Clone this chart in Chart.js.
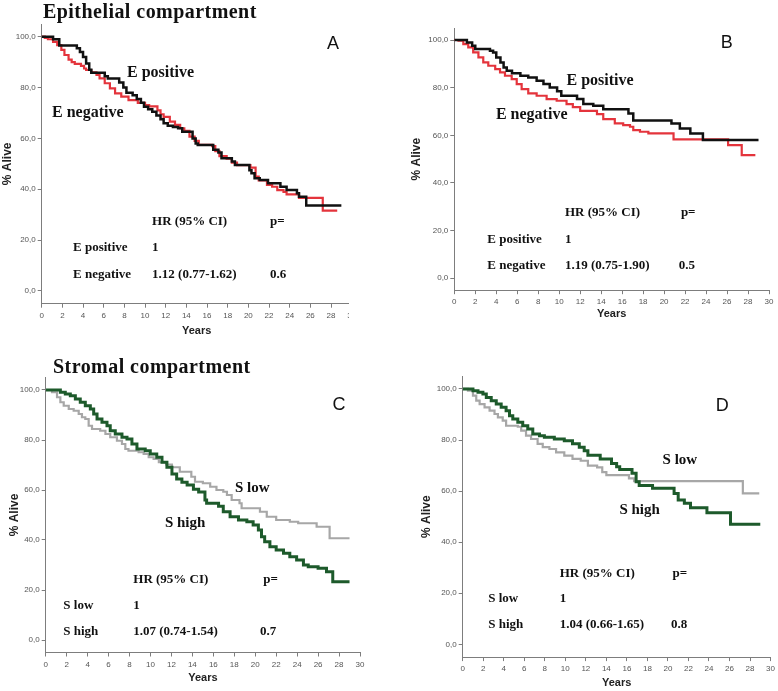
<!DOCTYPE html>
<html>
<head>
<meta charset="utf-8">
<title>Survival by epithelial and stromal compartment</title>
<script src="https://cdn.jsdelivr.net/npm/chart.js@4.4.1/dist/chart.umd.min.js"></script>
<style>
  body { margin: 0; background: #fff; }
  #figure { position: relative; width: 778px; height: 691px; overflow: hidden; }
  .panel { position: absolute; overflow: hidden; }
  .panel canvas { position: absolute; left: 0; top: 0; }
  .heading {
    position: absolute;
    font: bold 20px "Liberation Serif", "Times New Roman", serif;
    letter-spacing: 0.45px;
    line-height: 20px;
    white-space: nowrap;
    color: #111;
  }
</style>
</head>
<body>
<div id="figure">
  <div class="panel" style="left:0px; top:0px; width:349px; height:345px;"><canvas id="chartA" width="372" height="345"></canvas></div>
  <div class="panel" style="left:390px; top:0px; width:388px; height:340px;"><canvas id="chartB" width="388" height="340"></canvas></div>
  <div class="panel" style="left:0px; top:340px; width:390px; height:351px;"><canvas id="chartC" width="390" height="351"></canvas></div>
  <div class="panel" style="left:390px; top:340px; width:388px; height:351px;"><canvas id="chartD" width="388" height="351"></canvas></div>
  <div class="heading" style="left:43px; top:1px;">Epithelial compartment</div>
  <div class="heading" style="left:53px; top:356px;">Stromal compartment</div>
</div>

<script>
// ---------------------------------------------------------------
// Axis ticks
// ---------------------------------------------------------------
const xTicks = [0, 2, 4, 6, 8, 10, 12, 14, 16, 18, 20, 22, 24, 26, 28, 30];
const yTicks = [0, 20, 40, 60, 80, 100];

// ---------------------------------------------------------------
// Kaplan-Meier steps: event time (years) and % alive after the step
// ---------------------------------------------------------------

// A - epithelial, E positive / E negative
const aPosYears = [0, 1.1, 1.7, 3.4, 3.7, 4.0, 4.3, 4.6, 4.8, 6.1, 6.4, 7.5, 7.9, 8.2, 8.8, 9.2, 9.6, 9.9, 10.3, 10.7, 11.1, 11.5, 11.8, 12.2, 12.7, 13.2, 13.6, 14.6, 14.9, 15.1, 16.6, 17.1, 17.4, 18.4, 18.7, 20.1, 20.3, 20.6, 21.1, 21.9, 23.1, 23.7, 24.7, 24.9, 25.6, 29.0];
const aPosSurv  = [100, 99, 96.5, 95.5, 94, 92, 89.5, 87, 85.8, 84.5, 83.6, 82, 80, 78, 77, 75.5, 74, 72.5, 71.5, 70.5, 69, 67.5, 66, 65, 64.5, 64, 62.6, 60, 58, 57.4, 55.5, 54.5, 52.2, 50.9, 49.5, 47.5, 46.3, 44.3, 43.6, 42.4, 41, 39.7, 38.4, 37.1, 33.6, 33.6];
const aNegYears = [0, 0.3, 0.6, 1.1, 1.5, 1.9, 2.2, 2.6, 2.9, 3.2, 3.8, 4.1, 4.3, 4.8, 5.3, 5.6, 6.1, 6.6, 7.1, 7.7, 8.4, 9.3, 10.0, 10.4, 11.2, 11.5, 11.8, 12.4, 12.9, 13.4, 13.8, 14.3, 14.8, 15.2, 16.5, 16.8, 17.2, 17.9, 18.4, 18.9, 20.2, 20.7, 21.0, 21.8, 22.3, 22.8, 23.4, 23.7, 24.9, 27.2, 28.6];
const aNegSurv  = [100, 99.5, 99, 98, 96.7, 94.8, 92.8, 91, 90, 89.3, 88.5, 87.5, 86.9, 86, 85, 83.6, 81.7, 79.7, 77.7, 76.4, 75.1, 74, 73.1, 72.6, 71, 69.5, 68.5, 66.6, 65.3, 64, 63, 60.7, 59, 57.5, 57, 55, 53, 52, 50.5, 49.5, 48.5, 45, 43.5, 41.7, 41, 39.7, 39, 38, 36.6, 31.6, 31.6];

// B - epithelial, E positive / E negative
const bPosYears = [0, 1.2, 1.7, 2.0, 3.4, 3.7, 4.0, 4.4, 4.7, 5.0, 5.5, 6.3, 7.05, 7.85, 8.5, 9.1, 9.8, 10.2, 11.7, 12.3, 13.25, 14.2, 16.6, 17.06, 20.7, 21.5, 22.5, 23.7, 29.0];
const bPosSurv  = [100, 99, 97.6, 96.2, 95.5, 94.8, 92.7, 90.6, 88.5, 87.1, 86, 85, 84.3, 82.9, 81.5, 80.1, 78.5, 76.6, 75.2, 73.1, 72.4, 70.9, 69.2, 66.2, 65, 62.9, 60.8, 58, 58];
const bNegYears = [0, 0.4, 0.86, 1.33, 1.8, 2.3, 2.76, 3.24, 3.9, 4.36, 4.83, 5.47, 5.95, 6.42, 7.05, 7.85, 8.8, 9.76, 10.7, 11.3, 12.0, 13.6, 14.2, 15.3, 16.1, 16.75, 17.06, 17.7, 18.5, 20.9, 26.1, 27.4, 28.7];
const bNegSurv  = [100, 99.7, 98.3, 96.9, 94.8, 92.7, 90.6, 89.2, 87.8, 86.4, 85, 83.6, 81.5, 79.4, 77.6, 76.6, 75.2, 74.5, 73.1, 71.8, 70.3, 68.9, 66.8, 65, 64.3, 63.6, 62.2, 61.5, 60.8, 58.3, 55.9, 51.7, 51.7];

// C - stromal, S high / S low
const cHighYears = [0, 1.4, 1.87, 2.35, 2.83, 3.3, 3.78, 4.26, 4.58, 4.9, 5.37, 5.85, 6.16, 6.64, 7.28, 7.76, 8.23, 8.71, 9.5, 9.98, 10.6, 11.1, 11.57, 12.05, 12.5, 13.0, 13.5, 14.1, 14.6, 15.2, 15.36, 16.5, 16.95, 17.6, 18.4, 19.2, 19.8, 20.3, 20.6, 20.9, 21.4, 22.0, 22.7, 23.3, 23.95, 24.6, 25.06, 26.0, 26.8, 27.4, 29.0];
const cHighSurv  = [100, 99.1, 98.4, 97.7, 96.4, 95.1, 93.7, 92.4, 90.4, 88.4, 87.1, 85.7, 83.7, 82.4, 81.1, 80.4, 78.4, 76.4, 75.7, 74.4, 73.1, 71.1, 69.1, 66.4, 64.4, 63.1, 62, 60.3, 59.2, 56, 54.7, 53.5, 51.3, 49.3, 48, 47.3, 46, 44, 41.3, 39.3, 37.3, 36, 34.7, 33.3, 32, 30, 29.3, 28.7, 27.3, 23.3, 23.3];
const cLowYears  = [0, 0.6, 1.08, 1.4, 1.72, 2.2, 2.67, 3.15, 3.46, 3.78, 4.1, 4.42, 5.2, 5.7, 6.16, 6.8, 7.28, 7.6, 7.9, 8.87, 9.35, 9.83, 10.3, 10.8, 11.5, 12.05, 12.8, 13.9, 14.25, 15.0, 15.7, 16.3, 16.95, 17.3, 17.75, 18.5, 18.7, 20.45, 21.1, 22.0, 23.3, 24.1, 25.86, 27.1, 29.0];
const cLowSurv   = [100, 99.1, 97.1, 95.1, 93.7, 92.4, 91.7, 90.4, 89.1, 88.4, 85.7, 84.4, 83.7, 82.4, 81.1, 79.7, 78.4, 76.4, 75.7, 75.1, 74.4, 73.1, 72.4, 71.1, 70.2, 69.1, 67.3, 65.3, 63.3, 62.7, 61.3, 60, 59.3, 58, 56, 54.7, 52.7, 51.3, 49.3, 48, 47.3, 46.7, 45.3, 40.7, 40.7];

// D - stromal, S high / S low
const dHighYears = [0, 1.0, 1.49, 1.97, 2.3, 2.78, 3.27, 3.75, 4.23, 4.56, 4.88, 5.37, 5.85, 6.34, 6.83, 7.48, 7.96, 8.93, 9.9, 10.7, 11.36, 11.84, 12.2, 13.4, 14.5, 15.0, 15.3, 16.5, 16.9, 17.2, 18.5, 20.6, 21.0, 21.6, 22.2, 23.8, 26.1, 29.0];
const dHighSurv  = [100, 99.3, 98.7, 98, 96.7, 95.4, 94.1, 92.8, 91.5, 89.5, 88.2, 87, 85.6, 84.3, 82.4, 81.7, 81.1, 80.4, 79.7, 78.5, 77.2, 75.8, 74, 72.6, 70.8, 69.5, 68.5, 67, 63.7, 62.2, 61.1, 59.1, 56.5, 55.2, 53.5, 51.5, 47, 47];
const dLowYears  = [0, 0.51, 1.0, 1.32, 1.65, 2.13, 2.62, 3.1, 3.43, 3.9, 4.23, 5.37, 5.7, 6.17, 6.66, 7.3, 7.8, 8.45, 9.1, 9.9, 10.7, 11.5, 12.2, 13.1, 13.6, 14.0, 16.2, 16.7, 27.3, 28.9];
const dLowSurv   = [100, 99.3, 97.4, 95.4, 94.1, 92.8, 91.5, 90.2, 88.9, 87.6, 85.6, 85.2, 83.7, 81.7, 80.4, 78.5, 77.2, 76.5, 75.2, 73.9, 72.6, 71.9, 70, 69.3, 67.4, 66.3, 65, 63.9, 59.1, 59.1];

// ---------------------------------------------------------------
// Shared styling
// ---------------------------------------------------------------
const serif = '"Liberation Serif", "Times New Roman", serif';
const sans = '"Liberation Sans", Arial, sans-serif';
const letterFont = '18px ' + sans;
const curveFontE = 'bold 16px ' + serif;
const curveFontS = 'bold 15px ' + serif;
const tableFont = 'bold 13px ' + serif;
const axisGray = '#7d7d7d';

const BLACK = '#111111';
const RED = '#e4343c';
const GREEN = '#1d5a2b';
const GRAY = '#a7a7a7';

function toPoints(years, surv) {
    return years.map((t, i) => ({ x: t, y: surv[i] }));
}

// draws panel letter, curve labels and the HR table at data positions
function textPlugin(items) {
    return {
        id: 'panelText',
        afterDatasetsDraw(chart) {
            const { ctx, scales } = chart;
            ctx.save();
            ctx.fillStyle = '#111';
            ctx.textBaseline = 'middle';
            items.forEach(it => {
                ctx.font = it.font;
                ctx.textAlign = it.align || 'left';
                ctx.fillText(it.text, scales.x.getPixelForValue(it.x), scales.y.getPixelForValue(it.y));
            });
            ctx.restore();
        }
    };
}

/**
 * box  = page position/size of the canvas
 * area = page position of the plot area plus axis title centres
 */
function buildPanel(id, box, area, curves, notes) {
    const xTitleSize = 11, yTitleSize = 12;
    const xScaleBottom = area.xTitleY + xTitleSize * 1.2 / 2;
    const yTitlePad = (area.yTitleX - box.left) - yTitleSize * 1.2 / 2;

    new Chart(document.getElementById(id), {
        type: 'line',
        data: {
            datasets: curves.map(c => ({
                label: c.label,
                data: toPoints(c.years, c.surv),
                borderColor: c.color,
                borderWidth: c.width,
                stepped: 'before',
                pointRadius: 0,
                fill: false
            }))
        },
        options: {
            responsive: false,
            animation: false,
            devicePixelRatio: 1,
            layout: {
                autoPadding: false,
                padding: {
                    left: 0,
                    top: area.top - box.top,
                    right: box.left + box.width - area.right,
                    bottom: box.top + box.height - xScaleBottom
                }
            },
            plugins: {
                legend: { display: false },
                tooltip: { enabled: false }
            },
            scales: {
                x: {
                    type: 'linear',
                    min: 0,
                    max: 30,
                    afterBuildTicks: s => { s.ticks = xTicks.map(v => ({ value: v })); },
                    afterFit: s => { s.height = xScaleBottom - area.bottom; },
                    ticks: {
                        autoSkip: false, maxRotation: 0, padding: 3,
                        color: '#555', font: { family: sans, size: 8 },
                        callback: v => String(v)
                    },
                    grid: { drawOnChartArea: false, drawTicks: true, tickLength: 4, color: axisGray },
                    border: { display: true, color: axisGray, width: 1 },
                    title: {
                        display: true, text: 'Years', color: '#222',
                        font: { family: sans, size: xTitleSize, weight: 'bold' },
                        padding: { top: 0, bottom: 0 }
                    }
                },
                y: {
                    type: 'linear',
                    min: -5,
                    max: 105,
                    afterBuildTicks: s => { s.ticks = yTicks.map(v => ({ value: v })); },
                    afterFit: s => { s.width = area.left - box.left; },
                    ticks: {
                        autoSkip: false, padding: 2,
                        color: '#555', font: { family: sans, size: 8 },
                        callback: v => v.toFixed(1).replace('.', ',')
                    },
                    grid: { drawOnChartArea: false, drawTicks: true, tickLength: 4, color: axisGray },
                    border: { display: true, color: axisGray, width: 1 },
                    title: {
                        display: true, text: '% Alive', color: '#222',
                        font: { family: sans, size: yTitleSize, weight: 'bold' },
                        padding: { top: yTitlePad, bottom: 0 }
                    }
                }
            }
        },
        plugins: [textPlugin(notes)]
    });
}

// ---------------------------------------------------------------
// Panels
// ---------------------------------------------------------------
buildPanel('chartA',
    { left: 0, top: 0, width: 372, height: 345 },
    { left: 41.7, right: 351.7, top: 24, bottom: 303.7, yTitleX: 7.5, xTitleY: 331 },
    [
        { label: 'E positive', years: aPosYears, surv: aPosSurv, color: BLACK, width: 2.5 },
        { label: 'E negative', years: aNegYears, surv: aNegSurv, color: RED, width: 2.2 }
    ],
    [
        { text: 'A', x: 28.2, y: 97.2, font: letterFont, align: 'center' },
        { text: 'E positive', x: 8.26, y: 85.7, font: curveFontE },
        { text: 'E negative', x: 1.0, y: 70.0, font: curveFontE },
        { text: 'HR (95% CI)', x: 10.68, y: 27.1, font: tableFont },
        { text: 'p=', x: 22.1, y: 27.1, font: tableFont },
        { text: 'E positive', x: 3.03, y: 16.9, font: tableFont },
        { text: '1', x: 10.68, y: 16.9, font: tableFont },
        { text: 'E negative', x: 3.03, y: 6.3, font: tableFont },
        { text: '1.12 (0.77-1.62)', x: 10.68, y: 6.3, font: tableFont },
        { text: '0.6', x: 22.1, y: 6.3, font: tableFont }
    ]);

buildPanel('chartB',
    { left: 390, top: 0, width: 388, height: 340 },
    { left: 454.3, right: 769, top: 28.1, bottom: 290.2, yTitleX: 416.7, xTitleY: 314 },
    [
        { label: 'E positive', years: bPosYears, surv: bPosSurv, color: BLACK, width: 2.5 },
        { label: 'E negative', years: bNegYears, surv: bNegSurv, color: RED, width: 2.2 }
    ],
    [
        { text: 'B', x: 25.97, y: 98.7, font: letterFont, align: 'center' },
        { text: 'E positive', x: 10.7, y: 82.8, font: curveFontE },
        { text: 'E negative', x: 3.97, y: 68.5, font: curveFontE },
        { text: 'HR (95% CI)', x: 10.55, y: 27.7, font: tableFont },
        { text: 'p=', x: 21.6, y: 27.7, font: tableFont },
        { text: 'E positive', x: 3.15, y: 16.4, font: tableFont },
        { text: '1', x: 10.55, y: 16.4, font: tableFont },
        { text: 'E negative', x: 3.15, y: 5.3, font: tableFont },
        { text: '1.19 (0.75-1.90)', x: 10.55, y: 5.3, font: tableFont },
        { text: '0.5', x: 21.4, y: 5.3, font: tableFont }
    ]);

buildPanel('chartC',
    { left: 0, top: 340, width: 390, height: 351 },
    { left: 45.7, right: 360, top: 377.5, bottom: 652.5, yTitleX: 14.2, xTitleY: 678 },
    [
        { label: 'S high', years: cHighYears, surv: cHighSurv, color: GREEN, width: 3 },
        { label: 'S low', years: cLowYears, surv: cLowSurv, color: GRAY, width: 2.2 }
    ],
    [
        { text: 'C', x: 28.0, y: 94.0, font: letterFont, align: 'center' },
        { text: 'S low', x: 18.06, y: 60.7, font: curveFontS },
        { text: 'S high', x: 11.38, y: 46.7, font: curveFontS },
        { text: 'HR (95% CI)', x: 8.36, y: 24.3, font: tableFont },
        { text: 'p=', x: 20.76, y: 24.3, font: tableFont },
        { text: 'S low', x: 1.68, y: 13.7, font: tableFont },
        { text: '1', x: 8.36, y: 13.7, font: tableFont },
        { text: 'S high', x: 1.68, y: 3.3, font: tableFont },
        { text: '1.07 (0.74-1.54)', x: 8.36, y: 3.3, font: tableFont },
        { text: '0.7', x: 20.45, y: 3.3, font: tableFont }
    ]);

buildPanel('chartD',
    { left: 390, top: 340, width: 388, height: 351 },
    { left: 462.7, right: 771.7, top: 376.2, bottom: 657.1, yTitleX: 426.7, xTitleY: 683 },
    [
        { label: 'S high', years: dHighYears, surv: dHighSurv, color: GREEN, width: 3 },
        { label: 'S low', years: dLowYears, surv: dLowSurv, color: GRAY, width: 2.2 }
    ],
    [
        { text: 'D', x: 25.3, y: 93.4, font: letterFont, align: 'center' },
        { text: 'S low', x: 19.48, y: 72.2, font: curveFontS },
        { text: 'S high', x: 15.27, y: 52.6, font: curveFontS },
        { text: 'HR (95% CI)', x: 9.45, y: 27.8, font: tableFont },
        { text: 'p=', x: 20.45, y: 27.8, font: tableFont },
        { text: 'S low', x: 2.49, y: 18.0, font: tableFont },
        { text: '1', x: 9.45, y: 18.0, font: tableFont },
        { text: 'S high', x: 2.49, y: 7.6, font: tableFont },
        { text: '1.04 (0.66-1.65)', x: 9.45, y: 7.6, font: tableFont },
        { text: '0.8', x: 20.3, y: 7.6, font: tableFont }
    ]);
</script>
</body>
</html>
